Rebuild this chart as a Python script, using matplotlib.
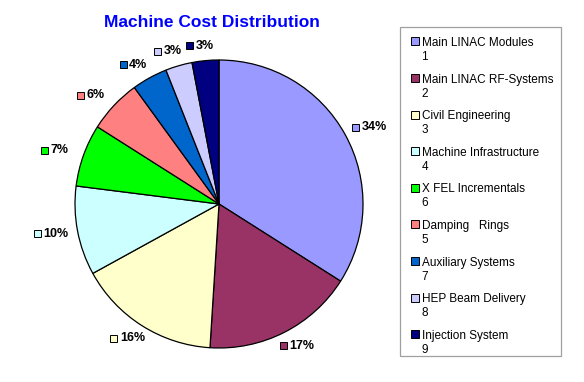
import numpy as np
import matplotlib.pyplot as plt
from matplotlib.patches import Rectangle

plt.rcParams['font.family'] = ['Liberation Sans', 'DejaVu Sans']

# data
names = ['Main LINAC Modules', 'Main LINAC RF-Systems', 'Civil Engineering',
         'Machine Infrastructure', 'X FEL Incrementals', 'Damping   Rings',
         'Auxiliary Systems', 'HEP Beam Delivery', 'Injection System']
ids = ['1', '2', '3', '4', '6', '5', '7', '8', '9']
shares = [34, 17, 16, 10, 7, 6, 4, 3, 3]
colors = ['#9999FF', '#993366', '#FFFFCC', '#CCFFFF', '#00FF00',
          '#FF8080', '#0066CC', '#CCCCFF', '#000080']

W, H = 584, 382
fig = plt.figure(figsize=(W / 100, H / 100), dpi=100)
ax = fig.add_axes([0, 0, 1, 1])

# pie in pixel-like coordinates (y measured from the bottom)
cx, cy, r = 219, H - 204, 144
wedges, _ = ax.pie(shares, colors=colors, startangle=90, counterclock=False,
                   center=(cx, cy), radius=r, frame=True,
                   wedgeprops=dict(edgecolor='black', linewidth=0.9))
ax.set_xlim(0, W)
ax.set_ylim(0, H)
ax.set_aspect('equal')
ax.axis('off')

# percentage labels, each with a small colour key in front
for w, s, c in zip(wedges, shares, colors):
    mid = np.deg2rad((w.theta1 + w.theta2) / 2)
    ux, uy = np.cos(mid), np.sin(mid)
    gx = cx + (r + 10) * ux + 17 * ux
    gy = cy + (r + 10) * uy + 5 * uy
    ax.add_patch(Rectangle((gx - 17, gy - 3.5), 7, 7, facecolor=c,
                           edgecolor='black', linewidth=0.7))
    ax.text(gx - 7.5, gy, f'{s}%', fontsize=9, fontweight='bold',
            ha='left', va='center')

ax.text(212, H - 22.5, 'Machine Cost Distribution', color='#0000FF',
        fontsize=12.5, fontweight='bold', ha='center', va='center')

# legend box drawn by hand so the key sits on the first text line
ax.add_patch(Rectangle((400, H - 356), 161, 329, facecolor='white',
                       edgecolor='#A0A0A0', linewidth=0.9))
step = 36.6
for k, (n, i, c) in enumerate(zip(names, ids, colors)):
    top = 37.3 + k * step
    ax.add_patch(Rectangle((411, H - top - 8), 8, 8, facecolor=c,
                           edgecolor='black', linewidth=0.7))
    ax.text(421.5, H - top - 8.7, n, fontsize=8.5, ha='left', va='baseline')
    ax.text(421.5, H - top - 22.7, i, fontsize=8.5, ha='left', va='baseline')

fig.savefig('out.png', dpi=100)
